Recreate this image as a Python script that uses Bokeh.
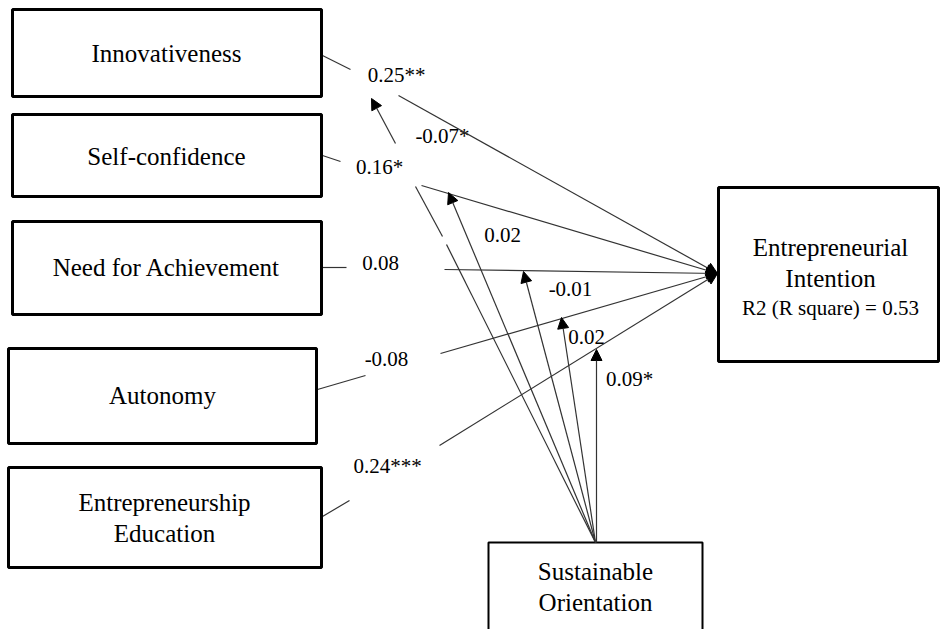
from bokeh.plotting import figure
from bokeh.models import Range1d, Arrow, NormalHead, ColumnDataSource
from bokeh.core.properties import value
from bokeh.embed import file_html
from bokeh.resources import INLINE

# ---- data ----
constructs = ["Innovativeness", "Self-confidence", "Need for Achievement", "Autonomy", "Entrepreneurship\nEducation"]
direct_effects = ["0.25**", "0.16*", "0.08", "-0.08", "0.24***"]
moderation_effects = ["-0.07*", "0.02", "-0.01", "0.02", "0.09*"]
outcome = "Entrepreneurial\nIntention"
r2_label = "R2 (R square) = 0.53"
moderator = "Sustainable\nOrientation"

# ---- layout (pixel coordinates, y downward) ----
box_left = [12, 12, 12, 8, 8]
box_right = [321, 321, 321, 316, 321]
box_top = [9, 114, 221, 348, 467]
box_bottom = [96, 196, 314, 443, 567]
label_cx = [166, 166, 166, 162, 164]
label_cy = [[53], [156], [267], [395], [502, 533]]

out_box = dict(left=718, right=938, top=187, bottom=361)
out_text_y = [247, 278]
out_cx = 830
mod_box = dict(left=488, right=702, top=542, bottom=640)
mod_text_y = [571, 602]
mod_cx = 595

# direct path geometry: stub from box to label, then line from label to outcome
stub_x0 = [322, 322, 322, 317, 322]
stub_y0 = [55, 155, 267, 389, 516]
stub_x1 = [350, 340, 346, 365, 349]
stub_y1 = [69, 161, 267, 375, 500]
main_x0 = [398, 421, 444, 440, 439]
main_y0 = [95, 185, 269, 353, 445]
end_x, end_y = 717, 273
direct_lx = [396, 379, 380, 386, 387]
direct_ly = [74, 166, 262, 358, 465]

# moderation geometry
src_x, src_y = 595, 542
mod_tip_x = [371, 448, 523, 561, 596]
mod_tip_y = [98, 192, 271, 317, 349]
mod_lx = [442, 502, 570, 586, 629]
mod_ly = [135, 234, 288, 336, 378]

FONT = value("Liberation Serif")
LINE = "#333333"

p = figure(width=941, height=629, x_range=Range1d(0, 941), y_range=Range1d(629, 0),
           output_backend="svg", toolbar_location=None,
           x_axis_location=None, y_axis_location=None,
           min_border=0, min_border_left=0, min_border_right=0,
           min_border_top=0, min_border_bottom=0)
p.grid.visible = False
p.outline_line_color = None
p.background_fill_color = "white"
p.border_fill_color = "white"

# stubs
p.segment(x0=stub_x0, y0=stub_y0, x1=stub_x1, y1=stub_y1, line_color=LINE, line_width=1.2)

# main paths with arrowheads
main_src = ColumnDataSource(dict(x0=main_x0, y0=main_y0,
                                 x1=[end_x] * 5, y1=[end_y] * 5))
p.add_layout(Arrow(end=NormalHead(size=11, fill_color="black", line_color="black"),
                   x_start="x0", y_start="y0", x_end="x1", y_end="y1",
                   source=main_src, line_color=LINE, line_width=1.2))

# moderation line for innovativeness (broken) + short arrow
p.segment(x0=[src_x, 442], y0=[src_y, 236], x1=[446, 415], y1=[244, 186],
          line_color=LINE, line_width=1.2)
p.add_layout(Arrow(end=NormalHead(size=11, fill_color="black", line_color="black"),
                   x_start=395, y_start=143, x_end=mod_tip_x[0], y_end=mod_tip_y[0],
                   line_color=LINE, line_width=1.2))

mod_src = ColumnDataSource(dict(x0=[src_x, src_x, src_x, 596], y0=[src_y] * 4,
                                x1=mod_tip_x[1:], y1=mod_tip_y[1:]))
p.add_layout(Arrow(end=NormalHead(size=11, fill_color="black", line_color="black"),
                   x_start="x0", y_start="y0", x_end="x1", y_end="y1",
                   source=mod_src, line_color=LINE, line_width=1.2))

# boxes
p.quad(left=box_left, right=box_right, top=box_top, bottom=box_bottom,
       fill_color="white", line_color="black", line_width=3)
p.quad(left=[out_box["left"]], right=[out_box["right"]], top=[out_box["top"]],
       bottom=[out_box["bottom"]], fill_color="white", line_color="black", line_width=3)
p.quad(left=[mod_box["left"]], right=[mod_box["right"]], top=[mod_box["top"]],
       bottom=[mod_box["bottom"]], fill_color="white", line_color="black", line_width=2)

# box texts
tx, ty, tt = [], [], []
for name, cx, cys in zip(constructs, label_cx, label_cy):
    for line, cy in zip(name.split("\n"), cys):
        tx.append(cx); ty.append(cy); tt.append(line)
for line, cy in zip(outcome.split("\n"), out_text_y):
    tx.append(out_cx); ty.append(cy); tt.append(line)
for line, cy in zip(moderator.split("\n"), mod_text_y):
    tx.append(mod_cx); ty.append(cy); tt.append(line)
p.text(x=tx, y=ty, text=tt, text_align="center", text_baseline="middle",
       text_font=FONT, text_font_size="25px", text_color="black")

p.text(x=[out_cx], y=[307], text=[r2_label], text_align="center", text_baseline="middle",
       text_font=FONT, text_font_size="21px", text_color="black")

# coefficient labels
p.text(x=direct_lx, y=direct_ly, text=direct_effects, text_align="center",
       text_baseline="middle", text_font=FONT, text_font_size="21px", text_color="black")
p.text(x=mod_lx, y=mod_ly, text=moderation_effects, text_align="center",
       text_baseline="middle", text_font=FONT, text_font_size="21px", text_color="black")

open("out.html", "w").write(file_html(p, INLINE))
